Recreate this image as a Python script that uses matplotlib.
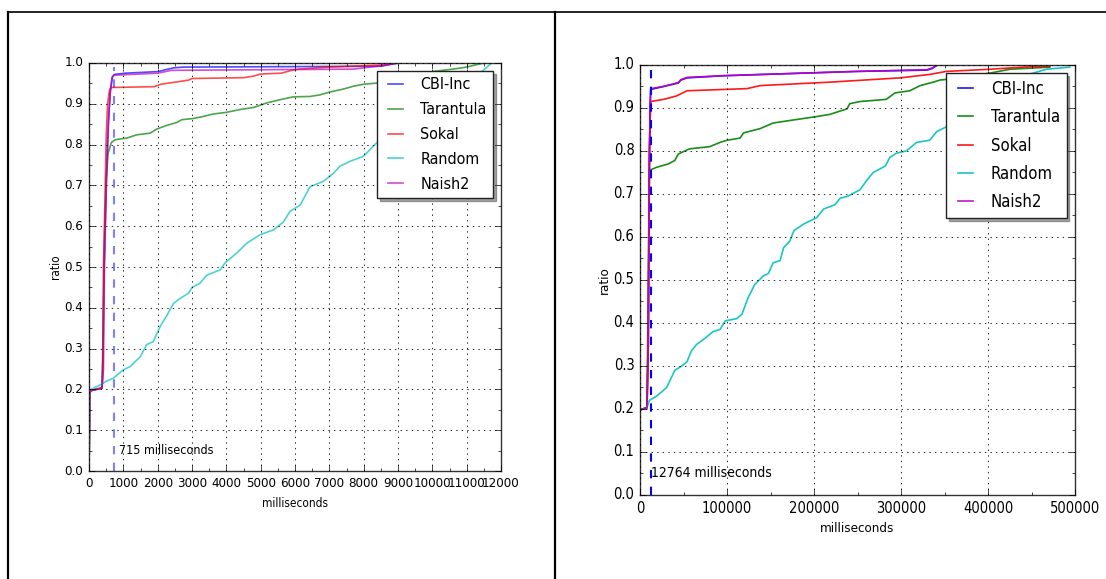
import matplotlib
matplotlib.use("Agg")
import matplotlib.pyplot as plt
from matplotlib.lines import Line2D
from matplotlib.ticker import AutoMinorLocator, MultipleLocator, FormatStrFormatter

plt.style.use("classic")
plt.rcParams["font.family"] = ["DejaVu Sans"]
plt.rcParams["font.stretch"] = "condensed"

# ---- left chart: cumulative ratio vs milliseconds (0..12000) ----
left_cbi_ms = [0, 20, 50, 380, 410, 440, 500, 560, 620, 680, 740, 1050, 2020, 2200, 2460, 2750, 8500, 9000]
left_cbi_ratio = [0.0, 0.19, 0.197, 0.203, 0.3, 0.5, 0.7, 0.85, 0.93, 0.965, 0.972, 0.975, 0.979, 0.983, 0.988, 0.99, 0.992, 1.0]

left_tar_ms = [0, 20, 50, 380, 410, 450, 500, 560, 650, 760, 1100, 1390, 1780, 1970, 2260, 2550, 2700, 3040,
               3330, 3620, 4000, 4400, 4790, 5170, 5560, 5950, 6440, 6730, 7020, 7400, 7700, 8000, 8570,
               9300, 10000, 10600, 11000, 11340, 11500]
left_tar_ratio = [0.0, 0.19, 0.197, 0.203, 0.35, 0.57, 0.72, 0.78, 0.805, 0.812, 0.816, 0.824, 0.828, 0.838,
                  0.847, 0.854, 0.861, 0.864, 0.869, 0.875, 0.879, 0.886, 0.891, 0.902, 0.91, 0.917, 0.918,
                  0.922, 0.929, 0.936, 0.943, 0.948, 0.952, 0.965, 0.979, 0.985, 0.99, 0.997, 1.0]

left_sok_ms = [0, 20, 50, 380, 400, 420, 460, 500, 540, 600, 650, 1900, 2100, 2500, 2900, 3000, 4500, 4800,
               5000, 5600, 5900, 6100, 7000, 8500, 9000]
left_sok_ratio = [0.0, 0.19, 0.197, 0.205, 0.25, 0.5, 0.65, 0.82, 0.9, 0.935, 0.94, 0.942, 0.948, 0.953, 0.958,
                  0.962, 0.964, 0.968, 0.973, 0.975, 0.982, 0.985, 0.99, 0.995, 1.0]

left_rnd_ms = [0, 20, 50, 300, 500, 700, 1000, 1200, 1490, 1680, 1870, 2070, 2260, 2456, 2600, 2900, 3000,
               3230, 3430, 3820, 3960, 4300, 4590, 4980, 5370, 5660, 5850, 6150, 6440, 6830, 7120, 7310,
               7600, 7990, 8280, 8570, 8770, 9500, 10500, 11390, 11730]
left_rnd_ratio = [0.0, 0.19, 0.2, 0.21, 0.22, 0.227, 0.248, 0.256, 0.28, 0.31, 0.317, 0.354, 0.38, 0.41, 0.42,
                  0.436, 0.45, 0.46, 0.48, 0.493, 0.51, 0.534, 0.558, 0.579, 0.591, 0.61, 0.636, 0.652, 0.697,
                  0.71, 0.73, 0.747, 0.759, 0.771, 0.796, 0.82, 0.836, 0.88, 0.93, 0.975, 1.0]

left_nai_ms = [0, 20, 50, 380, 420, 450, 520, 580, 620, 670, 720, 2000, 2400, 7700, 8500, 9000]
left_nai_ratio = [0.0, 0.19, 0.197, 0.203, 0.25, 0.5, 0.75, 0.88, 0.93, 0.965, 0.97, 0.975, 0.982, 0.985,
                  0.993, 1.0]

left_cut_ms = 715

# ---- right chart: cumulative ratio vs milliseconds (0..500000) ----
right_cbi_ms = [0, 8000, 9500, 10500, 11500, 12300, 27000, 44000, 47000, 54000, 96000, 172000, 249000,
                330000, 336000, 342000]
right_cbi_ratio = [0.198, 0.203, 0.35, 0.7, 0.9, 0.943, 0.95, 0.958, 0.965, 0.97, 0.975, 0.98, 0.985, 0.988,
                   0.992, 1.0]

right_tar_ms = [0, 8000, 9500, 10700, 19000, 32600, 40000, 44000, 57000, 80000, 92000, 100000, 115000,
                119000, 138000, 153000, 176000, 203000, 218000, 238000, 241000, 253000, 283000, 293000,
                310000, 322000, 337000, 345000, 360000, 402000, 425000, 471000]
right_tar_ratio = [0.198, 0.203, 0.5, 0.755, 0.762, 0.77, 0.778, 0.793, 0.805, 0.81, 0.82, 0.825, 0.83, 0.842,
                   0.852, 0.865, 0.872, 0.88, 0.885, 0.898, 0.91, 0.915, 0.92, 0.935, 0.94, 0.952, 0.96,
                   0.965, 0.968, 0.981, 0.99, 0.995]

right_sok_ms = [0, 8000, 9500, 10500, 12300, 27000, 42000, 54000, 123000, 138000, 218000, 299000, 333000,
                352000, 402000, 440000, 471000]
right_sok_ratio = [0.198, 0.203, 0.4, 0.8, 0.915, 0.92, 0.928, 0.94, 0.945, 0.952, 0.96, 0.97, 0.978, 0.985,
                   0.99, 0.995, 0.997]

right_rnd_ms = [0, 8000, 10700, 19000, 25000, 30600, 40000, 48000, 54000, 59000, 65000, 75000, 84000, 92000,
                98000, 111000, 117000, 124500, 132000, 142000, 147500, 153000, 161000, 165000, 172000,
                177000, 188000, 203000, 211000, 224000, 230000, 239000, 253000, 260000, 268000, 282000,
                287000, 295000, 306000, 318000, 333000, 341000, 356000, 362000, 400000, 440000, 467000,
                494000]
right_rnd_ratio = [0.198, 0.203, 0.22, 0.23, 0.24, 0.25, 0.29, 0.3, 0.31, 0.335, 0.35, 0.365, 0.38, 0.385,
                   0.405, 0.41, 0.42, 0.46, 0.49, 0.51, 0.515, 0.54, 0.545, 0.575, 0.59, 0.615, 0.63, 0.645,
                   0.665, 0.675, 0.69, 0.695, 0.71, 0.73, 0.75, 0.765, 0.785, 0.795, 0.8, 0.82, 0.825, 0.845,
                   0.86, 0.87, 0.92, 0.974, 0.99, 0.995]

right_nai_ms = [0, 8000, 9500, 10500, 11500, 12300, 27000, 44000, 47000, 54000, 96000, 172000, 249000,
                330000, 336000, 342000]
right_nai_ratio = [0.198, 0.203, 0.35, 0.7, 0.9, 0.945, 0.95, 0.959, 0.966, 0.971, 0.975, 0.98, 0.985, 0.989,
                   0.993, 1.0]

right_cut_ms = 12764

names = ["CBI-Inc", "Tarantula", "Sokal", "Random", "Naish2"]
colors = ["#0000ff", "#008000", "#ff0000", "#00bfbf", "#bf00bf"]


def draw_panel(ax, series, cut_ms, text_x, xmax, xstep, alpha, cut_alpha, fs, legfs):
    for (xs, ys), name, col in zip(series, names, colors):
        ax.plot(xs, ys, color=col, lw=1.2, alpha=alpha, label=name)
    ax.vlines(cut_ms, 0, 0.99, colors="#0000ff", linestyles="--", lw=1.5, alpha=cut_alpha)
    ax.text(text_x, 0.05, f"{cut_ms} milliseconds", ha="left", va="center", fontsize=fs - 0.5)
    ax.set_xlim(0, xmax)
    ax.set_ylim(0, 1.0)
    ax.xaxis.set_major_locator(MultipleLocator(xstep))
    ax.yaxis.set_major_locator(MultipleLocator(0.1))
    ax.xaxis.set_minor_locator(AutoMinorLocator(2))
    ax.yaxis.set_minor_locator(AutoMinorLocator(2))
    ax.tick_params(which="both", direction="in", top=True, right=True, labelsize=fs)
    ax.tick_params(which="major", length=4)
    ax.tick_params(which="minor", length=2)
    ax.grid(True, which="major", linestyle=":", color="k", lw=0.6)
    ax.set_xlabel("milliseconds", fontsize=fs - 1)
    ax.set_ylabel("ratio", fontsize=fs - 1, labelpad=2)
    ax.yaxis.set_major_formatter(FormatStrFormatter("%.1f"))
    for sp in ax.spines.values():
        sp.set_color("#333333")
    leg = ax.legend(loc="upper right", fontsize=legfs, shadow=True, fancybox=False,
                    handlelength=1.5, borderaxespad=0.5, labelspacing=0.62)
    leg.get_frame().set_edgecolor("#222222")
    leg.get_frame().set_linewidth(1.0)


fig = plt.figure(figsize=(11.06, 5.79), dpi=100, facecolor="white")

ax1 = fig.add_axes([0.0805, 0.1865, 0.3725, 0.7047])
draw_panel(ax1,
           [(left_cbi_ms, left_cbi_ratio), (left_tar_ms, left_tar_ratio), (left_sok_ms, left_sok_ratio),
            (left_rnd_ms, left_rnd_ratio), (left_nai_ms, left_nai_ratio)],
           left_cut_ms, 860, 12000, 1000, 0.7, 0.5, 9.5, 11.5)

ax2 = fig.add_axes([0.5787, 0.1451, 0.3933, 0.7427])
draw_panel(ax2,
           [(right_cbi_ms, right_cbi_ratio), (right_tar_ms, right_tar_ratio), (right_sok_ms, right_sok_ratio),
            (right_rnd_ms, right_rnd_ratio), (right_nai_ms, right_nai_ratio)],
           right_cut_ms, right_cut_ms, 500000, 100000, 0.9, 1.0, 10.5, 12)

# table borders around the two panels
H = 579.0
W = 1106.0
fig.add_artist(Line2D([8 / W, 1.0], [1 - 11.5 / H, 1 - 11.5 / H], color="black", lw=1.2))
fig.add_artist(Line2D([8 / W, 8 / W], [0, 1 - 11.5 / H], color="black", lw=1.6))
fig.add_artist(Line2D([555 / W, 555 / W], [0, 1 - 11.5 / H], color="black", lw=1.6))

fig.savefig("out.png", dpi=100, facecolor="white")
